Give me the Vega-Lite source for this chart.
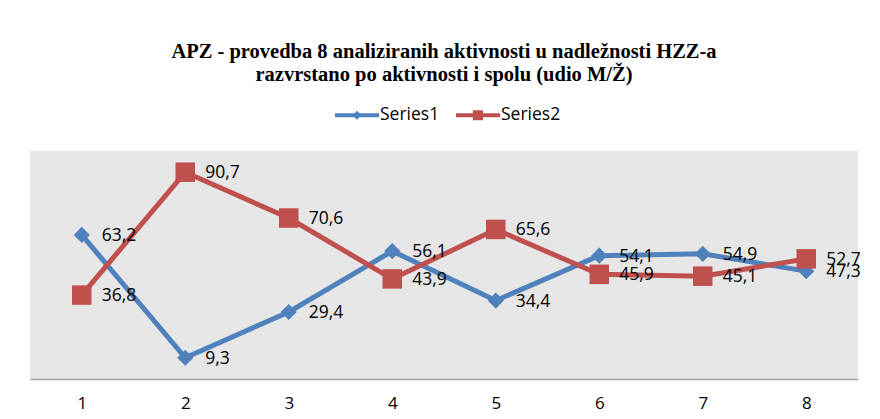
{
  "$schema": "https://vega.github.io/schema/vega-lite/v6.json",
  "width": 828,
  "height": 228,
  "autosize": {"type": "none"},
  "padding": {"left": 30, "top": 151, "right": 22, "bottom": 40},
  "background": "white",
  "config": {
    "locale": {"number": {"decimal": ",", "thousands": ".", "grouping": [3], "currency": ["", " €"]}},
    "view": {"fill": "#E6E6E6", "stroke": null},
    "font": "Open Sans"
  },
  "title": {
    "text": ["APZ - provedba 8 analiziranih aktivnosti  u nadležnosti HZZ-a", "razvrstano po aktivnosti i spolu (udio M/Ž)"],
    "font": "Liberation Serif",
    "fontSize": 20.5,
    "fontWeight": "bold",
    "color": "#000000",
    "lineHeight": 23,
    "anchor": "middle",
    "offset": 8
  },
  "data": {
    "values": [
      {"cat": "1", "series": "Series1", "value": 63.2},
      {"cat": "2", "series": "Series1", "value": 9.3},
      {"cat": "3", "series": "Series1", "value": 29.4},
      {"cat": "4", "series": "Series1", "value": 56.1},
      {"cat": "5", "series": "Series1", "value": 34.4},
      {"cat": "6", "series": "Series1", "value": 54.1},
      {"cat": "7", "series": "Series1", "value": 54.9},
      {"cat": "8", "series": "Series1", "value": 47.3},
      {"cat": "1", "series": "Series2", "value": 36.8},
      {"cat": "2", "series": "Series2", "value": 90.7},
      {"cat": "3", "series": "Series2", "value": 70.6},
      {"cat": "4", "series": "Series2", "value": 43.9},
      {"cat": "5", "series": "Series2", "value": 65.6},
      {"cat": "6", "series": "Series2", "value": 45.9},
      {"cat": "7", "series": "Series2", "value": 45.1},
      {"cat": "8", "series": "Series2", "value": 52.7}
    ]
  },
  "encoding": {
    "x": {
      "field": "cat",
      "type": "ordinal",
      "axis": {
        "title": null,
        "labelAngle": 0,
        "ticks": false,
        "domainColor": "#A6A6A6",
        "domainWidth": 1.5,
        "labelFont": "Open Sans",
        "labelFontSize": 17,
        "labelColor": "#000000",
        "labelPadding": 16
      }
    },
    "y": {
      "field": "value",
      "type": "quantitative",
      "scale": {"domain": [0, 100], "nice": false, "zero": true},
      "axis": null
    }
  },
  "layer": [
    {
      "mark": {"type": "line", "strokeWidth": 5},
      "encoding": {
        "color": {"field": "series", "type": "nominal", "scale": {"domain": ["Series1", "Series2"], "range": ["#4F81BD", "#C0504D"]}, "legend": null}
      }
    },
    {
      "mark": {"type": "point", "filled": true, "opacity": 1},
      "encoding": {
        "color": {"field": "series", "type": "nominal", "legend": null},
        "shape": {"field": "series", "type": "nominal", "scale": {"domain": ["Series1", "Series2"], "range": ["diamond", "square"]}, "legend": null},
        "size": {"field": "series", "type": "nominal", "scale": {"domain": ["Series1", "Series2"], "range": [260, 380]}, "legend": null}
      }
    },
    {
      "mark": {"type": "point", "filled": true, "opacity": 0},
      "encoding": {
        "color": {
          "field": "series",
          "type": "nominal",
          "legend": {
            "orient": "none",
            "direction": "horizontal",
            "legendX": 305,
            "legendY": -58,
            "title": null,
            "symbolSize": 1936,
            "symbolOpacity": 1,
            "symbolStrokeWidth": 0,
            "labelFont": "Open Sans",
            "labelFontSize": 17.5,
            "labelColor": "#000000",
            "labelOffset": 1,
            "columnPadding": 16
          }
        },
        "shape": {
          "field": "series",
          "type": "nominal",
          "scale": {"domain": ["Series1", "Series2"], "range": [
            "M-1,-0.09H1V0.09H-1Z M0,-0.2L0.2,0L0,0.2L-0.2,0Z",
            "M-1,-0.09H1V0.09H-1Z M-0.23,-0.23H0.23V0.23H-0.23Z"
          ]},
          "legend": {
            "orient": "none",
            "direction": "horizontal",
            "legendX": 305,
            "legendY": -58,
            "title": null,
            "symbolSize": 1936,
            "symbolOpacity": 1,
            "symbolStrokeWidth": 0,
            "labelFont": "Open Sans",
            "labelFontSize": 17.5,
            "labelColor": "#000000",
            "labelOffset": 1,
            "columnPadding": 16
          }
        }
      }
    },
    {
      "mark": {"type": "text", "align": "left", "baseline": "middle", "dx": 20, "dy": 1, "fontSize": 17.5, "font": "Open Sans", "color": "#000000"},
      "encoding": {
        "text": {"field": "value", "type": "quantitative", "format": ".1f"}
      }
    }
  ],
  "resolve": {
    "scale": {"shape": "independent", "size": "independent"},
    "legend": {"color": "independent", "shape": "independent"}
  }
}
